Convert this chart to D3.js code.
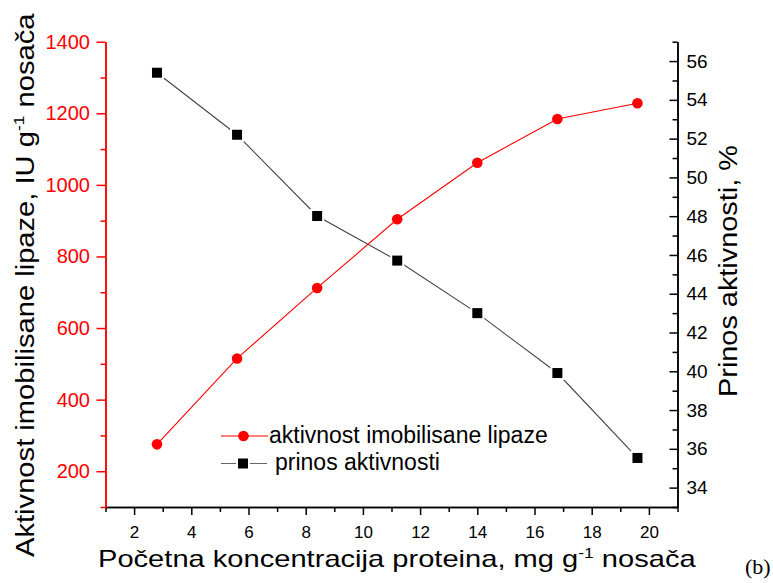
<!DOCTYPE html>
<html>
<head>
<meta charset="utf-8">
<script src="https://cdn.jsdelivr.net/npm/d3@7"></script>
<style>
  html, body { margin: 0; padding: 0; background: #fff; }
  svg { display: block; font-family: "Liberation Sans", Arial, sans-serif; }
</style>
</head>
<body>
<svg id="chart" width="773" height="583"></svg>
<script>
// ---- data ----
const xValues = [2.8, 5.6, 8.4, 11.2, 14.0, 16.8, 19.6];
const activity = [275, 515, 712, 904, 1062, 1184, 1228];      // IU g-1 nosača (left axis)
const yieldPct = [55.40, 52.20, 48.01, 45.71, 43.00, 39.91, 35.53]; // % (right axis)
const xMajorTicks = [2, 4, 6, 8, 10, 12, 14, 16, 18, 20];
const xMinorTicks = [1, 3, 5, 7, 9, 11, 13, 15, 17, 19, 21];
const leftMajorTicks = [200, 400, 600, 800, 1000, 1200, 1400];
const leftMinorTicks = [100, 300, 500, 700, 900, 1100, 1300];
const rightMajorTicks = [34, 36, 38, 40, 42, 44, 46, 48, 50, 52, 54, 56];
const rightMinorTicks = [33, 35, 37, 39, 41, 43, 45, 47, 49, 51, 53, 55, 57];
const seriesNames = ["aktivnost imobilisane lipaze", "prinos aktivnosti"];

const RED = "#ff0000";
const svg = d3.select("#chart");

const x = d3.scaleLinear().domain([1, 21]).range([105.5, 677.5]);
const yL = d3.scaleLinear().domain([100, 1400]).range([507, 41.7]);
const yR = d3.scaleLinear().domain([33, 57]).range([507, 41.7]);

function styleAxis(g, color, fontSize) {
  g.select(".domain").attr("stroke", color).attr("stroke-width", 1.5);
  g.selectAll(".tick line").attr("stroke", color).attr("stroke-width", 1.5);
  g.selectAll(".tick text").attr("fill", color).style("font-size", fontSize + "px")
    .style("font-family", "'Liberation Sans', Arial, sans-serif");
}

// bottom axis
const gxMinor = svg.append("g").attr("transform", `translate(0,${yL.range()[0]})`)
  .call(d3.axisBottom(x).tickValues(xMinorTicks).tickFormat("").tickSizeInner(5).tickSizeOuter(0));
styleAxis(gxMinor, "#000", 17);
const gx = svg.append("g").attr("transform", `translate(0,${yL.range()[0]})`)
  .call(d3.axisBottom(x).tickValues(xMajorTicks).tickFormat(d3.format("d")).tickSizeInner(8).tickSizeOuter(0).tickPadding(11));
styleAxis(gx, "#000", 17);

// right axis (ticks inward)
const gyRMinor = svg.append("g").attr("transform", `translate(${x.range()[1]},0)`)
  .call(d3.axisRight(yR).tickValues(rightMinorTicks).tickFormat("").tickSizeInner(-5).tickSizeOuter(0));
styleAxis(gyRMinor, "#000", 19);
const gyR = svg.append("g").attr("transform", `translate(${x.range()[1]},0)`)
  .call(d3.axisRight(yR).tickValues(rightMajorTicks).tickFormat(d3.format("d")).tickSizeInner(-8).tickSizeOuter(0).tickPadding(9));
styleAxis(gyR, "#000", 19);

// left axis (red)
const gyLMinor = svg.append("g").attr("transform", `translate(${x.range()[0]},0)`)
  .call(d3.axisLeft(yL).tickValues(leftMinorTicks).tickFormat("").tickSizeInner(5).tickSizeOuter(0));
styleAxis(gyLMinor, RED, 20);
const gyL = svg.append("g").attr("transform", `translate(${x.range()[0]},0)`)
  .call(d3.axisLeft(yL).tickValues(leftMajorTicks).tickFormat(d3.format("d")).tickSizeInner(9).tickSizeOuter(0).tickPadding(6.5));
styleAxis(gyL, RED, 20);

// ---- series ----
const actData = xValues.map((v, i) => ({x: v, y: activity[i]}));
const yldData = xValues.map((v, i) => ({x: v, y: yieldPct[i]}));

svg.append("path").datum(yldData)
  .attr("fill", "none").attr("stroke", "#444").attr("stroke-width", 1.1)
  .attr("d", d3.line().x(d => x(d.x)).y(d => yR(d.y)));
svg.append("path").datum(actData)
  .attr("fill", "none").attr("stroke", RED).attr("stroke-width", 1.1)
  .attr("d", d3.line().x(d => x(d.x)).y(d => yL(d.y)));

function drawSquare(g, cx, cy) {
  g.append("rect").attr("x", cx - 7).attr("y", cy - 7).attr("width", 14).attr("height", 14).attr("fill", "#fff");
  g.append("rect").attr("x", cx - 5).attr("y", cy - 5).attr("width", 10).attr("height", 10).attr("fill", "#000");
}
const gSq = svg.append("g");
yldData.forEach(d => drawSquare(gSq, x(d.x), yR(d.y)));

svg.append("g").selectAll("circle").data(actData).join("circle")
  .attr("cx", d => x(d.x)).attr("cy", d => yL(d.y)).attr("r", 5.3).attr("fill", RED);

// ---- legend ----
const leg = svg.append("g");
leg.append("line").attr("x1", 221).attr("x2", 268).attr("y1", 436).attr("y2", 436)
  .attr("stroke", RED).attr("stroke-width", 1.1);
leg.append("circle").attr("cx", 243.5).attr("cy", 436).attr("r", 5.3).attr("fill", RED);
leg.append("text").attr("x", 269).attr("y", 442.5).style("font-size", "23px").attr("fill", "#000")
  .text(seriesNames[0]);
leg.append("line").attr("x1", 221).attr("x2", 267).attr("y1", 463.5).attr("y2", 463.5)
  .attr("stroke", "#666").attr("stroke-width", 1.1);
drawSquare(leg, 243, 463.5);
leg.append("text").attr("x", 275).attr("y", 470).style("font-size", "23px").attr("fill", "#000")
  .text(seriesNames[1]);

// ---- titles ----
function titleWithSup(parent, parts, size) {
  const t = parent.append("text").style("font-size", size + "px").attr("fill", "#000");
  let raised = false;
  parts.forEach(p => {
    const ts = t.append("tspan").text(p.t);
    if (p.sup) {
      ts.attr("dy", -size * 0.38).style("font-size", (size * 0.6) + "px");
      raised = true;
    } else if (raised) {
      ts.attr("dy", size * 0.38);
      raised = false;
    }
  });
  return t;
}
function fitTitle(g, t, target, cx, cy, rotate) {
  const w = t.node().getBBox().width;
  const k = target / w;
  t.attr("x", -w / 2).attr("y", 0);
  g.attr("transform", `translate(${cx},${cy}) rotate(${rotate}) scale(${k},1)`);
}

// bottom title
const gBT = svg.append("g");
const bt = titleWithSup(gBT, [{t: "Početna koncentracija proteina, mg g"}, {t: "-1", sup: true}, {t: " nosača"}], 23);
fitTitle(gBT, bt, 598, 397, 567, 0);

// left title
const gLT = svg.append("g");
const lt = titleWithSup(gLT, [{t: "Aktivnost imobilisane lipaze, IU g"}, {t: "-1", sup: true}, {t: " nosača"}], 25);
fitTitle(gLT, lt, 544, 33.5, 285, -90);

// right title
const gRT = svg.append("g");
const rt = titleWithSup(gRT, [{t: "Prinos aktivnosti, %"}], 26);
fitTitle(gRT, rt, 252, 736.5, 271, -90);

// (b)
svg.append("text").attr("x", 745).attr("y", 574)
  .style("font-family", "'Liberation Serif', 'Times New Roman', serif").style("font-size", "22px")
  .attr("fill", "#000").text("(b)");
</script>
</body>
</html>
